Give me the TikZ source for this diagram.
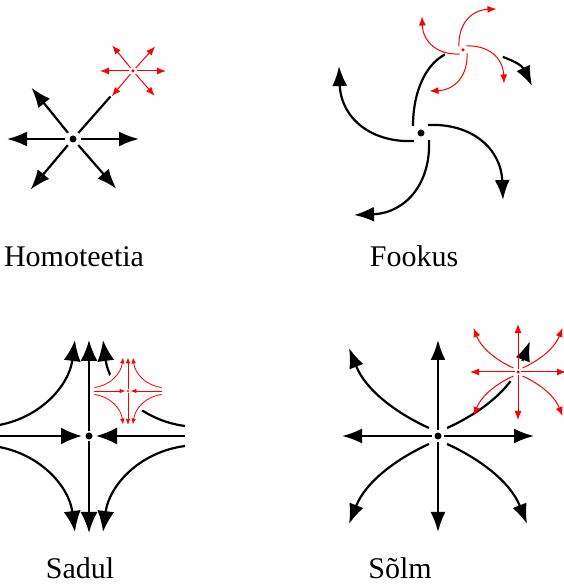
\documentclass[tikz,border=0pt]{standalone}
\usepackage{fontspec}
\setmainfont{Liberation Serif}
\usetikzlibrary{arrows.meta}

\tikzset{
 homot/.pic={\foreach \a in {#1} \draw (\a:8) -- (\a:66);
   \fill (0,0) circle (3.5);},
 fokus/.pic={\foreach \r in {#1}
     \draw[rotate=\r] (7,8) .. controls (50,10) and (80,-15) .. (82,-67);
   \fill (0,0) circle (3.5);},
 sadul/.pic={\draw (0,5) -- (0,96); \draw (0,-5) -- (0,-97);
   \draw (-96,0) -- (-7,0); \draw (96,0) -- (7,0);
   \foreach \sx/\sy in {1/1,-1/1,-1/-1,1/-1}
     \draw[xscale=\sx,yscale=\sy] (96,10) .. controls (50,16) and (20,50) .. (14,96);
   \fill (0,0) circle (3.5);},
 solm/.pic={\foreach \a in {0,90,180,270} \draw (\a:6) -- (\a:96);
   \foreach \sx/\sy in {#1}
     \draw[xscale=\sx,yscale=\sy] (9,8) .. controls (40,22) and (72,45) .. (89,88);
   \fill (0,0) circle (3.5);}
}

\begin{document}
\begin{tikzpicture}[x=1pt,y=1pt,
 blk/.style={line width=2.2pt,-{Latex[length=20pt,width=15pt]}},
 blkb/.style={line width=2.2pt,-{Latex[length=21pt,width=17pt]}},
 rd/.style={red,line width=1pt,-{Latex[length=9pt,width=7pt]}},
 rds/.style={red,line width=.8pt,-{Latex[length=6pt,width=4.5pt]}},
 lab/.style={anchor=base,font=\fontsize{30}{36}\selectfont}]
 \useasboundingbox (0,0) rectangle (564,587);
 % centres
 \coordinate (homA) at (73,448);
 \coordinate (homB) at (133,516);
 \coordinate (fokA) at (421,454);
 \coordinate (fokB) at (463,537);
 \coordinate (sadA) at (89,151);
 \coordinate (sadB) at (128,196);
 \coordinate (solA) at (438,151);
 \coordinate (solB) at (518,215);

 % Homoteetia
 \pic[blk] at (homA) {homot={0,129,180,230,311}};
 \draw[line width=2.2pt,shorten <=8pt,shorten >=34pt] (homA) -- (homB);
 \pic[rd,scale=.5] at (homB) {homot={0,48,129,180,230,311}};

 % Fookus
 \pic[blk] at (fokA) {fokus={0,-90,180}};
 \draw[blk] ([shift={(-8,7)}]fokA) .. controls +(0,43) and +(-30,0) .. (fokB)
   .. controls +(30,0) and +(-11,23) .. ([shift={(111,47)}]fokA);
 \fill[white] ([shift={(11,-3)}]fokB) circle (29);
 \pic[rd,scale=.5] at (fokB) {fokus={0,90,-90,180}};

 % Sadul
 \begin{scope}
  \clip (0,0) rectangle (564,587);
  \pic[blkb] at (sadA) {sadul};
 \end{scope}
 \fill[white] (sadB) circle (24);
 \pic[rds,scale=.35] at (sadB) {sadul};

 % Sõlm
 \pic[blk] at (solA) {solm={-1/1,-1/-1,1/-1}};
 \draw[blk] ([shift={(9,8)}]solA) .. controls +(31,14) and +(-19,-50) .. ([shift={(92,95)}]solA);
 \fill[white] (solB) circle (12);
 \pic[rd,scale=.5] at (solB) {solm={1/1,-1/1,-1/-1,1/-1}};

 \node[lab] (hom) at (74,320) {Homoteetia};
 \node[lab] (fok) at (414,320) {Fookus};
 \node[lab] (sad) at (80,9) {Sadul};
 \node[lab] (sol) at (400,9) {Sõlm};
\end{tikzpicture}
\end{document}
